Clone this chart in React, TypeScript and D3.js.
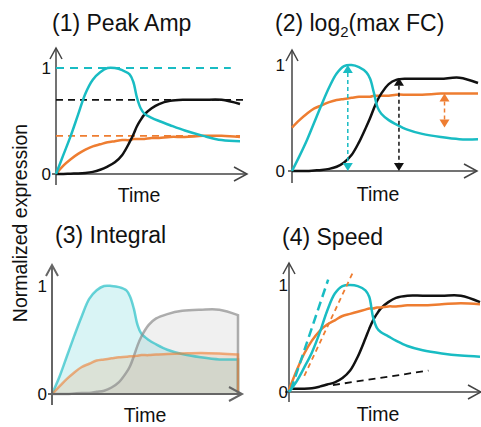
import React from "react";
import * as d3 from "d3";

// ---------- data ----------
const T = [0, 4, 8, 12, 16, 20, 24, 28, 32, 36, 40, 42, 44, 46, 48, 52, 56, 62, 70, 80, 90, 100];

// Panel 1: Peak Amp
const p1Cyan = [0, 0.18, 0.36, 0.56, 0.76, 0.89, 0.96, 1.0, 1.0, 0.98, 0.94, 0.87, 0.72, 0.62, 0.57, 0.53, 0.5, 0.46, 0.41, 0.36, 0.32, 0.31];
const p1Black = [0, 0, 0.003, 0.005, 0.01, 0.02, 0.04, 0.07, 0.11, 0.18, 0.3, 0.37, 0.45, 0.51, 0.56, 0.62, 0.66, 0.69, 0.7, 0.7, 0.7, 0.66];
const p1Orange = [0, 0.08, 0.14, 0.19, 0.23, 0.26, 0.28, 0.3, 0.31, 0.32, 0.32, 0.33, 0.33, 0.33, 0.33, 0.34, 0.34, 0.35, 0.35, 0.36, 0.36, 0.35];
const p1DashEnd = { cyan: 95, black: 104, orange: 100 };

// Panel 2: log2(max FC)
const p2Cyan = [0, 0.14, 0.29, 0.46, 0.63, 0.79, 0.92, 0.99, 1.0, 0.98, 0.93, 0.87, 0.74, 0.6, 0.54, 0.48, 0.44, 0.39, 0.35, 0.32, 0.3, 0.3];
const p2Black = [0, 0, 0, 0.005, 0.01, 0.02, 0.04, 0.08, 0.15, 0.27, 0.42, 0.5, 0.59, 0.67, 0.73, 0.82, 0.86, 0.87, 0.87, 0.87, 0.88, 0.83];
const p2Orange = [0.41, 0.48, 0.54, 0.59, 0.62, 0.65, 0.67, 0.68, 0.69, 0.7, 0.7, 0.7, 0.71, 0.71, 0.71, 0.71, 0.72, 0.72, 0.72, 0.73, 0.73, 0.73];
const p2ArrowT = { cyan: 30, black: 57.5, orange: 82 };

// Panel 3: Integral
const p3Cyan = [0, 0.16, 0.35, 0.54, 0.72, 0.88, 0.96, 1.0, 1.0, 0.99, 0.96, 0.9, 0.79, 0.64, 0.56, 0.5, 0.46, 0.41, 0.37, 0.34, 0.32, 0.32];
const p3Gray = [0, 0, 0, 0.005, 0.01, 0.01, 0.02, 0.03, 0.06, 0.11, 0.2, 0.26, 0.35, 0.45, 0.53, 0.64, 0.7, 0.74, 0.77, 0.78, 0.78, 0.73];
const p3Orange = [0, 0.07, 0.14, 0.2, 0.25, 0.28, 0.31, 0.32, 0.33, 0.34, 0.345, 0.35, 0.35, 0.355, 0.36, 0.36, 0.365, 0.37, 0.375, 0.38, 0.375, 0.365];

// Panel 4: Speed
const p4Cyan = [0, 0.1, 0.23, 0.37, 0.55, 0.76, 0.92, 0.99, 1.0, 0.99, 0.95, 0.89, 0.7, 0.6, 0.56, 0.52, 0.48, 0.43, 0.39, 0.36, 0.34, 0.33];
const p4Black = [0.03, 0.03, 0.03, 0.035, 0.05, 0.07, 0.09, 0.13, 0.2, 0.33, 0.5, 0.59, 0.67, 0.73, 0.78, 0.84, 0.88, 0.9, 0.9, 0.9, 0.9, 0.84];
const p4Orange = [0.02, 0.2, 0.36, 0.48, 0.57, 0.63, 0.67, 0.71, 0.73, 0.75, 0.77, 0.78, 0.78, 0.79, 0.79, 0.8, 0.8, 0.81, 0.81, 0.82, 0.83, 0.82];
const p4CyanTangent: [number, number][] = [[1, 0.02], [20.5, 1.05]];
const p4OrangeTangent: [number, number][] = [[8, 0.15], [33.5, 1.12]];
const p4BlackTangent: [number, number][] = [[23, 0.065], [73, 0.2]];

const yTicks = [0, 1];
const titles = ["(1) Peak Amp", "(2) log", "(3) Integral", "(4) Speed"];
const xLabel = "Time";
const yLabel = "Normalized expression";

// ---------- style ----------
const CYAN = "#19bcc3";
const ORANGE = "#ee7d31";
const BLACK = "#111111";
const FONT = "'Liberation Sans', Arial, Helvetica, sans-serif";
const CURVE = d3.curveCatmullRom.alpha(0.5);

type Layout = {
  ax: number; zeroY: number; oneY: number; dataEnd: number;
  xArrow: number; yTop: number; yBottom: number; xStart: number;
  tickX: number; axisColor: string; axisW: number;
  titleX: number; titleY: number; timeX: number; timeY: number;
};

const L1: Layout = { ax: 56, zeroY: 174, oneY: 68, dataEnd: 240, xArrow: 247, yTop: 48, yBottom: 185, xStart: 52, tickX: 51, axisColor: "#444", axisW: 1.5, titleX: 52, titleY: 31, timeX: 139, timeY: 202 };
const L2: Layout = { ax: 292, zeroY: 171, oneY: 65, dataEnd: 478, xArrow: 477, yTop: 50, yBottom: 183, xStart: 288, tickX: 285, axisColor: "#444", axisW: 1.5, titleX: 275, titleY: 31, timeX: 378, timeY: 201 };
const L3: Layout = { ax: 52, zeroY: 394, oneY: 286, dataEnd: 238, xArrow: 242, yTop: 265, yBottom: 405, xStart: 48, tickX: 47, axisColor: "#666", axisW: 2, titleX: 55, titleY: 243, timeX: 145, timeY: 422 };
const L4: Layout = { ax: 289, zeroY: 392, oneY: 285, dataEnd: 480, xArrow: 481, yTop: 263, yBottom: 402, xStart: 285, tickX: 288, axisColor: "#444", axisW: 1.5, titleX: 282, titleY: 245, timeX: 378, timeY: 421 };

function scales(l: Layout) {
  const x = d3.scaleLinear().domain([0, 100]).range([l.ax, l.dataEnd]);
  const y = d3.scaleLinear().domain([0, 1]).range([l.zeroY, l.oneY]);
  return { x, y };
}

function linePath(l: Layout, vals: number[]) {
  const { x, y } = scales(l);
  return d3.line<number>().x((_, i) => x(T[i])).y((v) => y(v)).curve(CURVE)(vals) || "";
}

function Axes({ l }: { l: Layout }) {
  const { y } = scales(l);
  return (
    <g stroke={l.axisColor} strokeWidth={l.axisW} fill="none">
      <line x1={l.ax} x2={l.ax} y1={l.yBottom} y2={l.yTop} />
      <polyline points={`${l.ax - 6},${l.yTop + 11} ${l.ax},${l.yTop} ${l.ax + 6},${l.yTop + 11}`} strokeLinejoin="miter" />
      <line x1={l.xStart} x2={l.xArrow} y1={l.zeroY} y2={l.zeroY} />
      <polyline points={`${l.xArrow - 13},${l.zeroY - 7} ${l.xArrow},${l.zeroY} ${l.xArrow - 13},${l.zeroY + 7}`} />
      {yTicks.map((t) => (
        <text key={t} x={l.tickX} y={y(t)} dy="0.36em" textAnchor="end" fontSize={17} fill="#111" stroke="none" fontFamily={FONT}>
          {t}
        </text>
      ))}
      <text x={l.timeX} y={l.timeY} textAnchor="middle" fontSize={19.5} fill="#111" stroke="none" fontFamily={FONT}>
        {xLabel}
      </text>
    </g>
  );
}

function Panel1() {
  const l = L1;
  const { x, y } = scales(l);
  const m = { cyan: d3.max(p1Cyan)!, black: d3.max(p1Black)!, orange: d3.max(p1Orange)! };
  return (
    <g>
      <Axes l={l} />
      <text x={l.titleX} y={l.titleY} fontSize={23} fontFamily={FONT} fill="#111">{titles[0]}</text>
      <line x1={x(0)} x2={x(p1DashEnd.cyan)} y1={y(m.cyan)} y2={y(m.cyan)} stroke={CYAN} strokeWidth={2} strokeDasharray="8,6" />
      <line x1={x(0)} x2={x(p1DashEnd.black)} y1={y(m.black)} y2={y(m.black)} stroke={BLACK} strokeWidth={1.8} strokeDasharray="7,5" />
      <line x1={x(0)} x2={x(p1DashEnd.orange)} y1={y(m.orange)} y2={y(m.orange)} stroke={ORANGE} strokeWidth={1.8} strokeDasharray="7,5" />
      <path d={linePath(l, p1Orange)} stroke={ORANGE} strokeWidth={2.5} fill="none" />
      <path d={linePath(l, p1Black)} stroke={BLACK} strokeWidth={2.5} fill="none" />
      <path d={linePath(l, p1Cyan)} stroke={CYAN} strokeWidth={2.5} fill="none" />
    </g>
  );
}

function VArrow({ x0, yA, yB, color }: { x0: number; yA: number; yB: number; color: string }) {
  const h = 8, w = 5;
  return (
    <g>
      <line x1={x0} x2={x0} y1={yA + h} y2={yB - h} stroke={color} strokeWidth={1.5} strokeDasharray="4,3" />
      <polygon points={`${x0},${yA} ${x0 - w},${yA + h} ${x0 + w},${yA + h}`} fill={color} />
      <polygon points={`${x0},${yB} ${x0 - w},${yB - h} ${x0 + w},${yB - h}`} fill={color} />
    </g>
  );
}

function Panel2() {
  const l = L2;
  const { x, y } = scales(l);
  return (
    <g>
      <Axes l={l} />
      <text x={l.titleX} y={l.titleY} fontSize={23} fontFamily={FONT} fill="#111">
        {titles[1]}
        <tspan fontSize={15} dy={6}>2</tspan>
        <tspan dy={-6}>(max FC)</tspan>
      </text>
      <path d={linePath(l, p2Orange)} stroke={ORANGE} strokeWidth={2.5} fill="none" />
      <path d={linePath(l, p2Black)} stroke={BLACK} strokeWidth={2.5} fill="none" />
      <path d={linePath(l, p2Cyan)} stroke={CYAN} strokeWidth={2.5} fill="none" />
      <VArrow x0={x(p2ArrowT.cyan)} yA={y(d3.max(p2Cyan)!)} yB={y(d3.min(p2Cyan)!)} color={CYAN} />
      <VArrow x0={x(p2ArrowT.black)} yA={y(d3.max(p2Black)!)} yB={y(d3.min(p2Black)!)} color={BLACK} />
      <VArrow x0={x(p2ArrowT.orange)} yA={y(d3.max(p2Orange)!)} yB={y(d3.min(p2Orange)!)} color={ORANGE} />
    </g>
  );
}

function Panel3() {
  const l = L3;
  const { x, y } = scales(l);
  const area = (vals: number[]) =>
    d3.area<number>().x((_, i) => x(T[i])).y0(y(0)).y1((v) => y(v)).curve(CURVE)(vals) || "";
  const outline = (vals: number[]) => `${linePath(l, vals)}L${x(100)},${y(0)}`;
  const series = [
    { vals: p3Cyan, fill: "rgba(27,191,196,0.17)", stroke: "rgba(25,188,195,0.65)" },
    { vals: p3Gray, fill: "rgba(150,150,150,0.14)", stroke: "rgba(140,140,140,0.7)" },
    { vals: p3Orange, fill: "rgba(238,125,49,0.15)", stroke: "rgba(238,125,49,0.6)" },
  ];
  return (
    <g>
      {series.map((s, i) => <path key={"a" + i} d={area(s.vals)} fill={s.fill} stroke="none" />)}
      {series.map((s, i) => <path key={"l" + i} d={outline(s.vals)} fill="none" stroke={s.stroke} strokeWidth={2.5} />)}
      <Axes l={l} />
      <text x={l.titleX} y={l.titleY} fontSize={23} fontFamily={FONT} fill="#111">{titles[2]}</text>
    </g>
  );
}

function Panel4() {
  const l = L4;
  const { x, y } = scales(l);
  const seg = (p: [number, number][]) => ({ x1: x(p[0][0]), y1: y(p[0][1]), x2: x(p[1][0]), y2: y(p[1][1]) });
  return (
    <g>
      <Axes l={l} />
      <text x={l.titleX} y={l.titleY} fontSize={23} fontFamily={FONT} fill="#111">{titles[3]}</text>
      <line {...seg(p4BlackTangent)} stroke={BLACK} strokeWidth={1.8} strokeDasharray="7,5" />
      <path d={linePath(l, p4Black)} stroke={BLACK} strokeWidth={2.5} fill="none" />
      <path d={linePath(l, p4Orange)} stroke={ORANGE} strokeWidth={2.5} fill="none" />
      <path d={linePath(l, p4Cyan)} stroke={CYAN} strokeWidth={2.5} fill="none" />
      <line {...seg(p4OrangeTangent)} stroke={ORANGE} strokeWidth={1.8} strokeDasharray="5,4" />
      <line {...seg(p4CyanTangent)} stroke={CYAN} strokeWidth={2.5} strokeDasharray="9,5" />
    </g>
  );
}

export default function App() {
  return (
    <svg width={481} height={427} style={{ position: "absolute", left: 0, top: 0, background: "#fff" }}>
      <rect width={481} height={427} fill="#fff" />
      <Panel1 />
      <Panel2 />
      <Panel3 />
      <Panel4 />
      <text transform="translate(27,223) rotate(-90)" textAnchor="middle" fontSize={19.5} fontFamily={FONT} fill="#111">
        {yLabel}
      </text>
    </svg>
  );
}
